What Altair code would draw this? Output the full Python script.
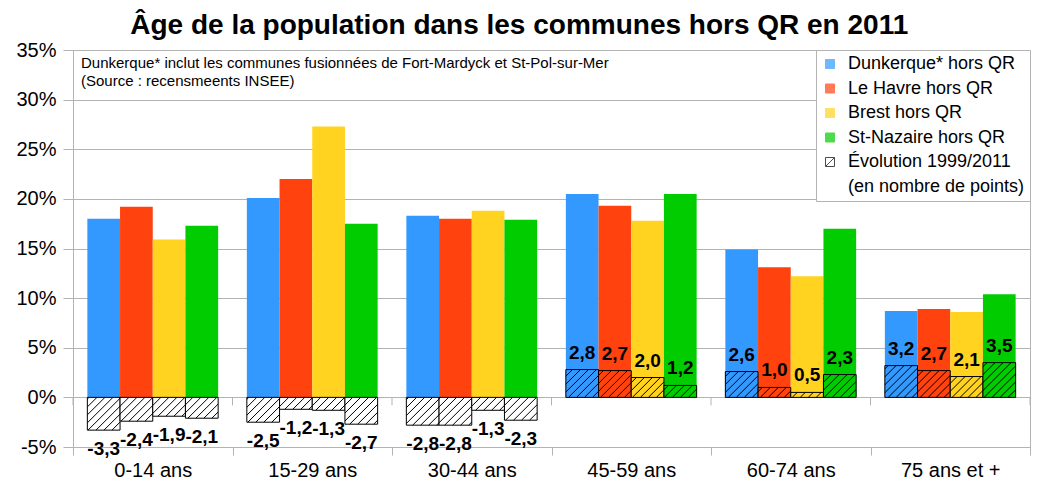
import json
import math
import altair as alt
import pandas as pd

# ---------------- data ----------------
groups = ["0-14 ans", "15-29 ans", "30-44 ans", "45-59 ans", "60-74 ans", "75 ans et +"]
series = ["Dunkerque* hors QR", "Le Havre hors QR", "Brest hors QR", "St-Nazaire hors QR"]
colors = ["#3399ff", "#ff420e", "#ffd320", "#00cc00"]

share_dunkerque = [18.0, 20.1, 18.3, 20.5, 14.9, 8.7]
share_havre = [19.2, 22.0, 18.0, 19.3, 13.1, 8.9]
share_brest = [15.9, 27.3, 18.8, 17.8, 12.2, 8.6]
share_nazaire = [17.3, 17.5, 17.9, 20.5, 17.0, 10.4]

evo_dunkerque = [-3.3, -2.5, -2.8, 2.8, 2.6, 3.2]
evo_havre = [-2.4, -1.2, -2.8, 2.7, 1.0, 2.7]
evo_brest = [-1.9, -1.3, -1.3, 2.0, 0.5, 2.1]
evo_nazaire = [-2.1, -2.7, -2.3, 1.2, 2.3, 3.5]

y_ticks = [-5, 0, 5, 10, 15, 20, 25, 30, 35]

title_text = "Âge de la population dans les communes hors QR en 2011"
note_text = ("Dunkerque* inclut les communes fusionnées de Fort-Mardyck et St-Pol-sur-Mer\n"
             "(Source : recensmeents INSEE)")
evo_legend = ["Évolution 1999/2011", "(en nombre de points)"]

shares = [share_dunkerque, share_havre, share_brest, share_nazaire]
evos = [evo_dunkerque, evo_havre, evo_brest, evo_nazaire]

# ---------------- layout / style ----------------
W, H = 1025, 472
BW = 0.205                       # bar width in group units
MARGIN = (1 - 4 * BW) / 2
PX_X = 958 / 6                   # approx pixels per group unit
PX_Y = 10                        # approx pixels per percentage point
SPACING = 8                      # hatch spacing in px
GRAY = "#b3b3b3"
FONT = "Liberation Sans"

bars, evo_rows, hatch, lab_pos, lab_neg = [], [], [], [], []
for gi, g in enumerate(groups):
    for si, s in enumerate(series):
        x0 = gi + MARGIN + si * BW
        x1 = x0 + BW
        bars.append({"x": x0, "x2": x1, "y": shares[si][gi], "y2": 0, "fill": colors[si]})
        e = evos[si][gi]
        evo_rows.append({"x": x0, "x2": x1, "y": e, "y2": 0,
                         "fill": colors[si] if e > 0 else "#ffffff"})
        lab = {"x": (x0 + x1) / 2, "y": e, "t": f"{e:.1f}".replace(".", ",")}
        (lab_pos if e > 0 else lab_neg).append(lab)
        # hatch lines "/" clipped to the bar, computed in pixel space
        u0, u1 = x0 * PX_X, x1 * PX_X
        v0, v1 = min(0, e) * PX_Y, max(0, e) * PX_Y
        kmin = math.ceil((v0 - u1) / SPACING)
        kmax = math.floor((v1 - u0) / SPACING)
        for kk in range(kmin, kmax + 1):
            k = kk * SPACING
            lo = max(u0, v0 - k)
            hi = min(u1, v1 - k)
            if hi - lo > 0.3:
                hatch.append({"x": lo / PX_X, "y": (lo + k) / PX_Y,
                              "x2": hi / PX_X, "y2": (hi + k) / PX_Y})

bars_df = pd.DataFrame(bars)
evo_df = pd.DataFrame(evo_rows)
hatch_df = pd.DataFrame(hatch)
pos_df = pd.DataFrame(lab_pos)
neg_df = pd.DataFrame(lab_neg)
zero_ticks_df = pd.DataFrame({"x": list(range(len(groups) + 1))})
zero_ticks_df["y"] = 0
zero_ticks_df["y2"] = -0.8

# ---------------- scales / axes ----------------
xscale = alt.Scale(domain=[0, len(groups)], nice=False, zero=False)
yscale = alt.Scale(domain=[y_ticks[0], y_ticks[-1]], nice=False, zero=False)

xvals = [i / 2 for i in range(2 * len(groups) + 1)]
xaxis = alt.Axis(
    values=xvals,
    labelExpr=f"datum.value % 1 == 0.5 ? {json.dumps(groups)}[floor(datum.value)] : ''",
    tickOpacity={"condition": {"test": "datum.value % 1 == 0", "value": 1}, "value": 0},
    tickSize=8, tickColor=GRAY, domainColor=GRAY, grid=False,
    labelFontSize=20, labelFont=FONT, labelColor="black", labelPadding=5,
    labelOverlap=False, labelFlush=False, title=None,
)
yaxis = alt.Axis(
    values=y_ticks, labelExpr="datum.value + '%'",
    grid=True, gridColor=GRAY, domainColor=GRAY, tickColor=GRAY, tickSize=10,
    labelFontSize=20, labelFont=FONT, labelColor="black", labelPadding=7,
    minExtent=65, maxExtent=65, title=None,
)
X = alt.X("x:Q", scale=xscale, axis=xaxis)
Y = alt.Y("y:Q", scale=yscale, axis=yaxis)

main = alt.Chart(bars_df).mark_rect().encode(
    x=X, x2="x2:Q", y=Y, y2="y2:Q", fill=alt.Fill("fill:N", scale=None)
)
zero_ticks = alt.Chart(zero_ticks_df).mark_rule(color=GRAY, strokeWidth=1).encode(
    x=X, y=Y, y2="y2:Q"
)
evo = alt.Chart(evo_df).mark_rect(stroke="black", strokeWidth=1).encode(
    x=X, x2="x2:Q", y=Y, y2="y2:Q", fill=alt.Fill("fill:N", scale=None)
)
hatch_layer = alt.Chart(hatch_df).mark_rule(color="black", strokeWidth=1).encode(
    x=X, x2="x2:Q", y=Y, y2="y2:Q"
)
pos_text = alt.Chart(pos_df).mark_text(
    font=FONT, fontSize=19, fontWeight="bold", color="black", baseline="middle", dy=-17
).encode(x=X, y=Y, text="t:N")
neg_text = alt.Chart(neg_df).mark_text(
    font=FONT, fontSize=19, fontWeight="bold", color="black", baseline="middle", dy=19
).encode(x=X, y=Y, text="t:N")

note = alt.Chart(pd.DataFrame({"t": [note_text]})).mark_text(
    font=FONT, fontSize=15, align="left", baseline="top", lineBreak="\n",
    lineHeight=18, color="black"
).encode(x=alt.value(8), y=alt.value(6), text="t:N")

# legend (scale-driven, no visible marks)
leg_domain = series + evo_legend
leg_fill = colors + ["#ffffff", "transparent"]
leg_stroke = colors + ["black", "transparent"]
sq = "M-1,-1H1V1H-1Z"
leg_shape = [sq] * 4 + ["M-1,-1H1V1H-1Z M-1,1L1,-1", "M0,0"]
legend_df = pd.DataFrame({"s": leg_domain})
legend_layer = alt.Chart(legend_df).transform_filter("false").mark_point(
    filled=True, strokeWidth=1
).encode(
    x=alt.X("x:Q", scale=xscale, axis=xaxis),
    color=alt.Color("s:N", scale=alt.Scale(domain=leg_domain, range=leg_fill),
                    legend=alt.Legend(
                        title=None, orient="top-right", offset=0, padding=5,
                        fillColor="white", strokeColor=GRAY,
                        labelFont=FONT, labelFontSize=18, labelColor="black",
                        labelLimit=400, labelOffset=9, rowPadding=6.5,
                        symbolSize=81, symbolStrokeWidth=1)),
    shape=alt.Shape("s:N", scale=alt.Scale(domain=leg_domain, range=leg_shape)),
    stroke=alt.Stroke("s:N", scale=alt.Scale(domain=leg_domain, range=leg_stroke)),
)

chart = alt.layer(
    main, zero_ticks, evo, hatch_layer, pos_text, neg_text, note, legend_layer
).properties(
    width=W, height=H,
    autosize=alt.AutoSizeParams(type="fit", contains="padding"),
    padding={"left": 0, "right": 2, "top": 4, "bottom": 0},
    title=alt.TitleParams(title_text, font=FONT, fontSize=28, fontWeight="bold",
                          anchor="middle", frame="bounds", offset=0, color="black"),
).configure_view(stroke=GRAY, strokeWidth=1)

chart.save("out.html", embed_options={"renderer": "svg", "actions": False})
